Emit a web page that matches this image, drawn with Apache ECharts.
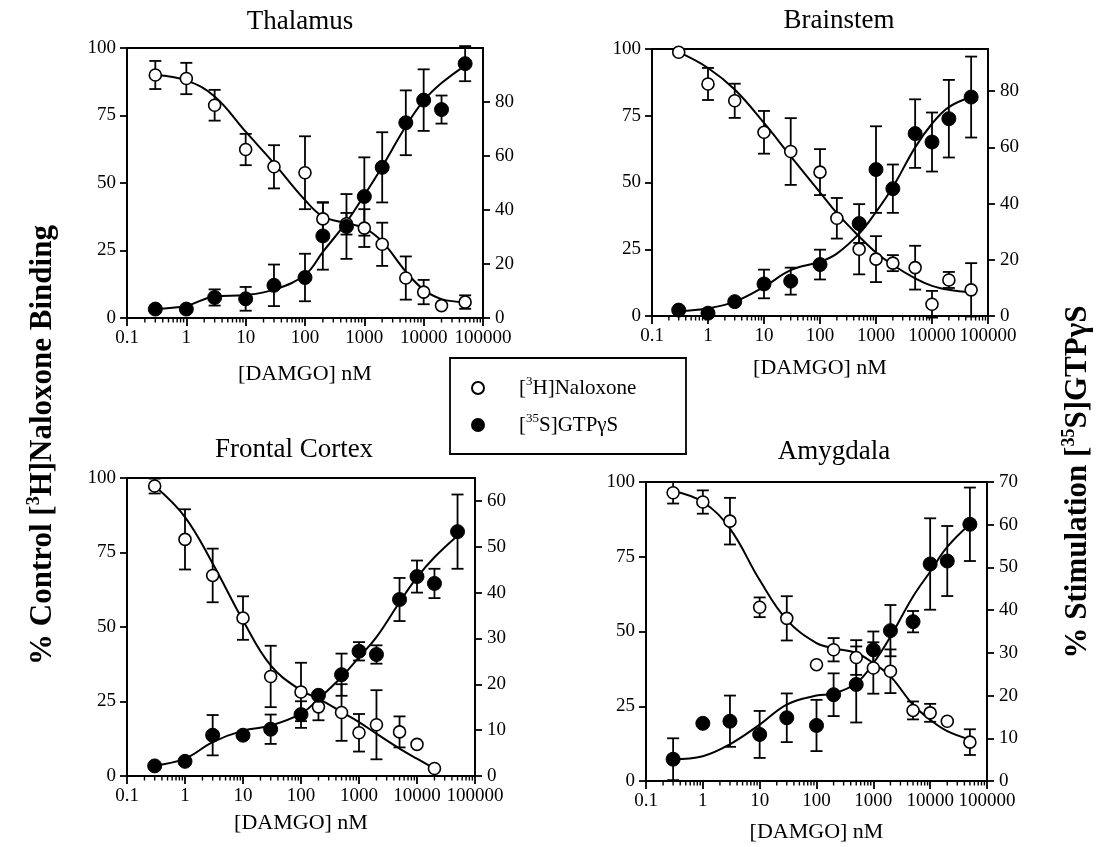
<!DOCTYPE html>
<html>
<head>
<meta charset="utf-8">
<script src="https://cdn.jsdelivr.net/npm/echarts@6/dist/echarts.min.js"></script>
<style>html,body{margin:0;padding:0;background:#fff}#chart{width:1098px;height:847px}</style>
</head>
<body>
<div id="chart"></div>
<script>
// ---------------- data ----------------
const concentrations = [0.3, 1, 3, 10, 30, 100, 200, 500, 1000, 2000, 5000, 10000, 20000, 50000];
const xTickLabels = ['0.1', '1', '10', '100', '1000', '10000', '100000'];
const leftTicks = [0, 25, 50, 75, 100];

const NAL = '[3H]Naloxone';
const GTP = '[35S]GTPγS';

// Thalamus
const thalamusNaloxone    = [90, 88.7, 78.8, 62.4, 56, 53.8, 36.7, 34.9, 33.3, 27.3, 14.8, 9.6, 4.6, 5.9];
const thalamusNaloxoneErr = [5.2, 5.8, 5.7, 5.8, 8, 13.5, 6, 4, 7, 8, 8, 4.5, null, 2.5];
const thalamusGTP         = [3.3, 3.3, 7.6, 7.1, 12.1, 15, 30.4, 33.9, 45, 55.8, 72.3, 80.7, 77.2, 94.2];
const thalamusGTPErr      = [null, null, 3, 4.4, 7.7, 8.8, 12.5, 12, 14.5, 13, 12, 11.4, 5.2, 6.5];
const thalamusNaloxoneFit = [90, 88, 82, 69, 57.3, 43.7, 37.6, 35.1, 33.3, 28.3, 17.2, 10.5, 7, 5.9];
const thalamusGTPFit      = [3.3, 4.5, 8, 8.5, 10.5, 16, 24.5, 35.5, 45.5, 56, 71, 80.5, 87, 93.5];
const thalamusRightTicks  = [0, 20, 40, 60, 80];

// Brainstem
const brainstemNaloxone    = [98.8, 86.9, 80.6, 68.8, 61.6, 53.9, 36.6, 25, 21.3, 19.8, 18.1, 4.4, 13.5, 9.8];
const brainstemNaloxoneErr = [null, 6, 6.4, 8, 12.5, 8.6, 7.6, 9.4, 8.6, 3, 8.2, 5, 3, 10];
const brainstemGTP         = [2.1, 1, 5.1, 11.4, 12.4, 18.3, null, 32.9, 52.1, 45.3, 64.9, 61.9, 70.2, 77.9];
const brainstemGTPErr      = [null, null, null, 5.1, 4.8, 5.3, null, 6.9, 15.4, 8.6, 12.2, 10.5, 13.8, 14.4];
const brainstemNaloxoneFit = [98.8, 92.9, 84.8, 72.3, 59.8, 46.3, 38.5, 29.8, 23.8, 19.1, 14.1, 11.3, 9.8, 8.8];
const brainstemGTPFit      = [1.8, 2.7, 5.1, 10.4, 16.3, 19.3, 22.2, 29.3, 37, 45.9, 60, 68.4, 74.3, 77.9];
const brainstemRightTicks  = [0, 20, 40, 60, 80];

// Frontal Cortex
const frontalNaloxone    = [97.3, 79.4, 67.3, 53, 33.4, 28.2, 23.2, 21.3, 14.5, 17.2, 14.8, 10.6, 2.5, null];
const frontalNaloxoneErr = [2.5, 10.1, 9, 7.3, 10.3, 9.8, 4.5, 9.5, 6.3, 11.6, 5.2, null, null, null];
const frontalGTP         = [2.2, 3.2, 8.9, 8.9, 10.2, 13.4, 17.6, 22.1, 27.2, 26.5, 38.5, 43.5, 42, 53.3];
const frontalGTPErr      = [null, null, 4.4, null, 3.2, 2.9, null, 4.6, 2, 2, 4.7, 3.5, 3.2, 8.1];
const frontalNaloxoneFit = [97.3, 86.9, 71.3, 52.2, 37.1, 28.7, 26, 21.5, 18.1, 14.2, 9.2, 5.8, 2.5, null];
const frontalGTPFit      = [2.3, 3.8, 7.4, 9.9, 11, 13.6, 16.8, 21.6, 25.9, 30.3, 37.9, 43.3, 47.7, 52.4];
const frontalRightTicks  = [0, 10, 20, 30, 40, 50, 60];

// Amygdala
const amygdalaNaloxone    = [96.4, 93.3, 86.9, 58.1, 54.4, 38.9, 43.9, 41.3, 37.8, 36.7, 23.6, 22.8, 20, 13];
const amygdalaNaloxoneErr = [3.6, 3.9, 7.8, 3.3, 7.4, null, 3.9, 5.8, 8.6, 7.3, 3, 3, null, 4.3];
const amygdalaGTP         = [5.1, 13.5, 14, 10.9, 14.8, 13, 20.2, 22.6, 30.7, 35.2, 37.3, 50.8, 51.5, 60.1];
const amygdalaGTPErr      = [4.9, null, 6, 5.5, 5.7, 6, 5, 8.9, 4.3, 6, 2.5, 10.7, 8.2, 8.6];
const amygdalaNaloxoneFit = [97, 93.3, 84.4, 67.2, 53.9, 46.1, 44.4, 42.8, 39.4, 35, 25.5, 20.5, 16.7, 13.9];
const amygdalaGTPFit      = [5.1, 5.8, 8.6, 13.2, 17.9, 20, 20.5, 22.9, 27.6, 33.8, 43.2, 49, 54.8, 60.1];
const amygdalaRightTicks  = [0, 10, 20, 30, 40, 50, 60, 70];

// ---------------- layout & style ----------------
const FONT = '"Liberation Serif", "Times New Roman", serif';
const panels = [
  {title: 'Thalamus', nal: thalamusNaloxone, nalErr: thalamusNaloxoneErr, gtp: thalamusGTP, gtpErr: thalamusGTPErr,
   nalFit: thalamusNaloxoneFit, gtpFit: thalamusGTPFit, rightTicks: thalamusRightTicks, rightMax: 100,
   grid: {left: 127, top: 48, width: 356, height: 270}, titlePos: [300, 22], nameGap: 45},
  {title: 'Brainstem', nal: brainstemNaloxone, nalErr: brainstemNaloxoneErr, gtp: brainstemGTP, gtpErr: brainstemGTPErr,
   nalFit: brainstemNaloxoneFit, gtpFit: brainstemGTPFit, rightTicks: brainstemRightTicks, rightMax: 95,
   grid: {left: 652, top: 49, width: 336, height: 267}, titlePos: [839, 21], nameGap: 41},
  {title: 'Frontal Cortex', nal: frontalNaloxone, nalErr: frontalNaloxoneErr, gtp: frontalGTP, gtpErr: frontalGTPErr,
   nalFit: frontalNaloxoneFit, gtpFit: frontalGTPFit, rightTicks: frontalRightTicks, rightMax: 65,
   grid: {left: 127, top: 478, width: 348, height: 298}, titlePos: [294, 450], nameGap: 36},
  {title: 'Amygdala', nal: amygdalaNaloxone, nalErr: amygdalaNaloxoneErr, gtp: amygdalaGTP, gtpErr: amygdalaGTPErr,
   nalFit: amygdalaNaloxoneFit, gtpFit: amygdalaGTPFit, rightTicks: amygdalaRightTicks, rightMax: 70,
   grid: {left: 646, top: 482, width: 341, height: 299}, titlePos: [834, 452], nameGap: 40}
];

// minor ticks of the log axis (2..9 of each decade)
const minorTickValues = [];
for (let d = -1; d < 5; d++) for (let k = 2; k <= 9; k++) minorTickValues.push([k * Math.pow(10, d), 0]);

const lineW = 1.8;
const axisLineStyle = {color: '#000', width: lineW};
const labelStyle = {color: '#000', fontFamily: FONT, fontSize: 19};

function pairs(xs, ys) {
  const out = [];
  xs.forEach((x, i) => { if (ys[i] != null) out.push([x, ys[i]]); });
  return out;
}
function triples(xs, ys, es) {
  const out = [];
  xs.forEach((x, i) => { if (ys[i] != null && es[i] != null) out.push([x, ys[i], es[i]]); });
  return out;
}
function renderErrorBar(params, api) {
  const x = api.value(0), m = api.value(1), e = api.value(2);
  const top = api.coord([x, m + e]);
  const bot = api.coord([x, m - e]);
  const cw = 6;
  const st = {stroke: '#000', lineWidth: lineW};
  return {type: 'group', children: [
    {type: 'line', shape: {x1: top[0], y1: top[1], x2: bot[0], y2: bot[1]}, style: st},
    {type: 'line', shape: {x1: top[0] - cw, y1: top[1], x2: top[0] + cw, y2: top[1]}, style: st},
    {type: 'line', shape: {x1: bot[0] - cw, y1: bot[1], x2: bot[0] + cw, y2: bot[1]}, style: st}
  ]};
}
function renderMinorTick(params, api) {
  const p = api.coord([api.value(0), 0]);
  return {type: 'line', shape: {x1: p[0], y1: p[1], x2: p[0], y2: p[1] + 4.5}, style: {stroke: '#000', lineWidth: 1.4}};
}

const grids = [], xAxes = [], yAxes = [], series = [], graphics = [];

panels.forEach((p, i) => {
  grids.push(Object.assign({show: true, borderColor: '#000', borderWidth: lineW, backgroundColor: 'transparent'}, p.grid));
  xAxes.push({
    gridIndex: i, type: 'log', logBase: 10, min: 0.1, max: 100000,
    axisLine: {lineStyle: axisLineStyle}, axisTick: {length: 8, lineStyle: {color: '#000', width: lineW}},
    splitLine: {show: false}, minorTick: {show: false},
    axisLabel: Object.assign({margin: 11, formatter: v => xTickLabels[Math.round(Math.log10(v)) + 1]}, labelStyle),
    name: '[DAMGO] nM', nameLocation: 'middle', nameGap: p.nameGap,
    nameTextStyle: {color: '#000', fontFamily: FONT, fontSize: 22}
  });
  yAxes.push({
    gridIndex: i, type: 'value', position: 'left', min: 0, max: 100, interval: 25,
    axisLine: {show: true, lineStyle: axisLineStyle}, axisTick: {show: true, length: 7, lineStyle: {color: '#000', width: lineW}},
    splitLine: {show: false}, axisLabel: Object.assign({margin: 11, customValues: leftTicks}, labelStyle)
  });
  yAxes.push({
    gridIndex: i, type: 'value', position: 'right', min: 0, max: p.rightMax,
    axisLine: {show: true, lineStyle: axisLineStyle},
    axisTick: {show: true, length: 7, customValues: p.rightTicks, lineStyle: {color: '#000', width: lineW}},
    splitLine: {show: false},
    axisLabel: Object.assign({margin: 12, customValues: p.rightTicks}, labelStyle)
  });
  const yl = 2 * i, yr = 2 * i + 1;
  series.push({type: 'custom', name: p.title + ' minor ticks', xAxisIndex: i, yAxisIndex: yl, silent: true, clip: false,
    renderItem: renderMinorTick, data: minorTickValues, z: 1});
  series.push({type: 'line', name: p.title + ' naloxone fit', xAxisIndex: i, yAxisIndex: yl, smooth: 0.4,
    showSymbol: false, symbol: 'none', lineStyle: {color: '#000', width: 2}, data: pairs(concentrations, p.nalFit), z: 2, silent: true});
  series.push({type: 'line', name: p.title + ' GTP fit', xAxisIndex: i, yAxisIndex: yr, smooth: 0.4,
    showSymbol: false, symbol: 'none', lineStyle: {color: '#000', width: 2}, data: pairs(concentrations, p.gtpFit), z: 2, silent: true});
  series.push({type: 'custom', name: p.title + ' naloxone SEM', xAxisIndex: i, yAxisIndex: yl, clip: false, silent: true,
    dimensions: ['x', 'y', 'e'], encode: {x: 0, y: 1}, renderItem: renderErrorBar, data: triples(concentrations, p.nal, p.nalErr), z: 3});
  series.push({type: 'custom', name: p.title + ' GTP SEM', xAxisIndex: i, yAxisIndex: yr, clip: false, silent: true,
    dimensions: ['x', 'y', 'e'], encode: {x: 0, y: 1}, renderItem: renderErrorBar, data: triples(concentrations, p.gtp, p.gtpErr), z: 3});
  series.push({type: 'scatter', name: NAL, xAxisIndex: i, yAxisIndex: yl, symbol: 'circle', symbolSize: 12,
    itemStyle: {color: '#fff', borderColor: '#000', borderWidth: 1.6, opacity: 1}, data: pairs(concentrations, p.nal), z: 4});
  series.push({type: 'scatter', name: GTP, xAxisIndex: i, yAxisIndex: yr, symbol: 'circle', symbolSize: 14,
    itemStyle: {color: '#000', borderColor: '#000', borderWidth: 1, opacity: 1}, data: pairs(concentrations, p.gtp), z: 4});
  graphics.push({type: 'text', x: p.titlePos[0], y: p.titlePos[1], silent: true,
    style: {text: p.title, fill: '#000', fontFamily: FONT, fontSize: 27, align: 'center', verticalAlign: 'middle'}});
});

// axis titles
graphics.push({type: 'text', x: 43, y: 445, rotation: Math.PI / 2, silent: true,
  style: {text: '% Control [{s|3}H]Naloxone Binding', fill: '#000', fontFamily: FONT, fontSize: 31, fontWeight: 'bold',
    lineHeight: 36, align: 'center', verticalAlign: 'middle',
    rich: {s: {fontFamily: FONT, fontSize: 18, fontWeight: 'bold', lineHeight: 18, verticalAlign: 'top', fill: '#000'}}}});
graphics.push({type: 'text', x: 1078, y: 482, rotation: Math.PI / 2, silent: true,
  style: {text: '% Stimulation [{s|35}S]GTPγS', fill: '#000', fontFamily: FONT, fontSize: 31, fontWeight: 'bold',
    lineHeight: 36, align: 'center', verticalAlign: 'middle',
    rich: {s: {fontFamily: FONT, fontSize: 18, fontWeight: 'bold', lineHeight: 18, verticalAlign: 'top', fill: '#000'}}}});
// legend frame
graphics.push({type: 'rect', shape: {x: 450, y: 358, width: 236, height: 96}, silent: true,
  style: {fill: 'none', stroke: '#000', lineWidth: lineW}});

const chart = echarts.init(document.getElementById('chart'), null, {renderer: 'canvas'});
chart.setOption({
  backgroundColor: '#fff',
  animation: false,
  grid: grids, xAxis: xAxes, yAxis: yAxes, series: series, graphic: graphics,
  legend: {
    orient: 'vertical', left: 466, top: 370, itemWidth: 72, itemHeight: 12, itemGap: 11,
    selectedMode: false, data: [NAL, GTP],
    formatter: n => n === NAL ? '[{s|3}H]Naloxone' : '[{s|35}S]GTPγS',
    textStyle: {color: '#000', fontFamily: FONT, fontSize: 21, lineHeight: 26,
      rich: {s: {color: '#000', fontFamily: FONT, fontSize: 13, lineHeight: 13, verticalAlign: 'top'}}}
  }
});
</script>
</body>
</html>
